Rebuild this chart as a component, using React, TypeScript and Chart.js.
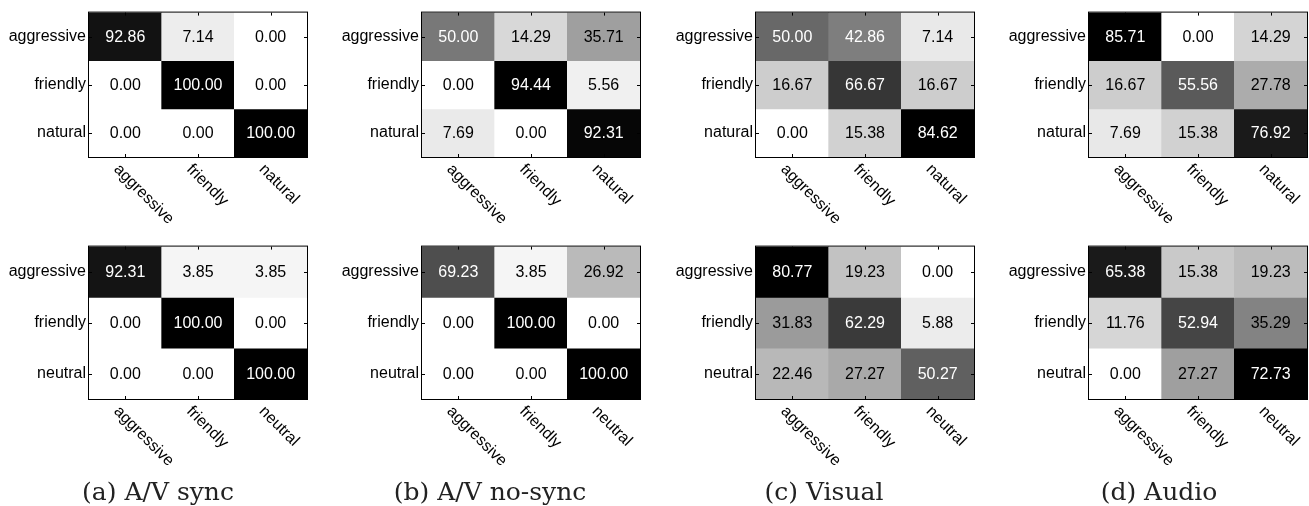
import React, { useEffect, useRef } from "react";
import { Chart, registerables } from "chart.js";

Chart.register(...registerables);

// ---- data ----
const labelsNatural = ["aggressive", "friendly", "natural"];
const labelsNeutral = ["aggressive", "friendly", "neutral"];

const syncNatural = [
  [92.86, 7.14, 0.0],
  [0.0, 100.0, 0.0],
  [0.0, 0.0, 100.0],
];
const noSyncNatural = [
  [50.0, 14.29, 35.71],
  [0.0, 94.44, 5.56],
  [7.69, 0.0, 92.31],
];
const visualNatural = [
  [50.0, 42.86, 7.14],
  [16.67, 66.67, 16.67],
  [0.0, 15.38, 84.62],
];
const audioNatural = [
  [85.71, 0.0, 14.29],
  [16.67, 55.56, 27.78],
  [7.69, 15.38, 76.92],
];
const syncNeutral = [
  [92.31, 3.85, 3.85],
  [0.0, 100.0, 0.0],
  [0.0, 0.0, 100.0],
];
const noSyncNeutral = [
  [69.23, 3.85, 26.92],
  [0.0, 100.0, 0.0],
  [0.0, 0.0, 100.0],
];
const visualNeutral = [
  [80.77, 19.23, 0.0],
  [31.83, 62.29, 5.88],
  [22.46, 27.27, 50.27],
];
const audioNeutral = [
  [65.38, 15.38, 19.23],
  [11.76, 52.94, 35.29],
  [0.0, 27.27, 72.73],
];

const captions = ["(a) A/V sync", "(b) A/V no-sync", "(c) Visual", "(d) Audio"];

// ---- layout ----
const PLOT_LEFT = [89, 422, 756, 1089];
const PLOT_TOP = [9, 243];
const PLOT_H = [148, 156];
const PLOT_W = 218;
const LABEL_W = 89;
const BOTTOM_SPACE = 90;
const CAPTION_CENTER = [158, 490, 824, 1159];

const FONT = '16px "Liberation Sans", Arial, Helvetica, sans-serif';

type Props = {
  values: number[][];
  labels: string[];
  col: number;
  row: number;
};

function Matrix({ values, labels, col, row }: Props) {
  const ref = useRef<HTMLCanvasElement | null>(null);
  const width = LABEL_W + PLOT_W + 2;
  const height = 9 + PLOT_H[row] + BOTTOM_SPACE;

  useEffect(() => {
    const canvas = ref.current;
    if (!canvas) return;
    const flat = values.flat();
    const vmin = Math.min(...flat);
    const vmax = Math.max(...flat);
    const norm = (v: number) => (v - vmin) / (vmax - vmin);
    const gray = (v: number) => {
      const g = Math.round(255 * (1 - norm(v)));
      return `rgb(${g},${g},${g})`;
    };

    const cellPlugin = {
      id: "cells",
      afterDatasetsDraw(chart: any) {
        const { ctx, chartArea: a } = chart;
        const xs = chart.scales.x;
        const ys = chart.scales.y;
        ctx.save();
        ctx.font = FONT;
        ctx.textAlign = "center";
        ctx.textBaseline = "middle";
        chart.data.datasets.forEach((_ds: any, r: number) => {
          const meta = chart.getDatasetMeta(r);
          meta.data.forEach((el: any, c: number) => {
            const v = values[r][c];
            const cy = (el.y + el.base) / 2;
            ctx.fillStyle = norm(v) >= 0.495 ? "#ffffff" : "#000000";
            ctx.fillText(v.toFixed(2), el.x, cy + 1);
          });
        });
        // box
        ctx.strokeStyle = "#000";
        ctx.lineWidth = 1;
        ctx.strokeRect(a.left - 0.5, a.top - 0.5, a.right - a.left + 1, a.bottom - a.top + 1);
        // inward ticks
        ctx.beginPath();
        labels.forEach((_l, i) => {
          const px = Math.round(xs.getPixelForValue(i)) + 0.5;
          ctx.moveTo(px, a.bottom);
          ctx.lineTo(px, a.bottom - 3);
          ctx.moveTo(px, a.top);
          ctx.lineTo(px, a.top + 3);
          const py = Math.round(ys.getPixelForValue(i)) + 0.5;
          ctx.moveTo(a.left, py);
          ctx.lineTo(a.left + 3, py);
          ctx.moveTo(a.right, py);
          ctx.lineTo(a.right - 3, py);
        });
        ctx.stroke();
        // rotated x labels
        ctx.fillStyle = "#000";
        ctx.textAlign = "left";
        ctx.textBaseline = "middle";
        labels.forEach((l, i) => {
          const px = xs.getPixelForValue(i);
          ctx.save();
          ctx.translate(px - 9, a.bottom + 10);
          ctx.rotate(Math.PI / 4);
          ctx.fillText(l, 0, 0);
          ctx.restore();
        });
        ctx.restore();
      },
    };

    const chart = new Chart(canvas, {
      type: "bar",
      data: {
        labels: labels,
        datasets: values.map((rowVals, r) => ({
          data: rowVals.map(() => [r - 0.5, r + 0.5]),
          backgroundColor: rowVals.map((v) => gray(v)),
          borderWidth: 0,
          grouped: false,
          barPercentage: 1,
          categoryPercentage: 1,
        })) as any,
      },
      options: {
        animation: false,
        responsive: false,
        events: [],
        layout: { padding: { top: 9, right: 2, left: 0, bottom: 0 } },
        plugins: {
          legend: { display: false },
          tooltip: { enabled: false },
          title: { display: false },
        },
        scales: {
          x: {
            type: "category",
            offset: true,
            grid: { display: false, drawTicks: false },
            border: { display: false },
            ticks: { display: false },
            afterFit: (s: any) => {
              s.height = BOTTOM_SPACE;
            },
          },
          y: {
            type: "linear",
            min: -0.5,
            max: 2.5,
            reverse: true,
            grid: { display: false, drawTicks: false },
            border: { display: false },
            afterBuildTicks: (s: any) => {
              s.ticks = labels.map((_l, i) => ({ value: i }));
            },
            ticks: {
              color: "#000",
              padding: 3,
              font: { family: '"Liberation Sans", Arial, Helvetica, sans-serif', size: 16 },
              callback: (v: any) => labels[Number(v)] ?? "",
            },
            afterFit: (s: any) => {
              s.width = LABEL_W;
            },
          },
        },
      } as any,
      plugins: [cellPlugin],
    });
    return () => chart.destroy();
  }, [values, labels, row, col]);

  return (
    <canvas
      ref={ref}
      width={width}
      height={height}
      style={{
        position: "absolute",
        left: PLOT_LEFT[col] - LABEL_W,
        top: PLOT_TOP[row] - 9,
        width,
        height,
      }}
    />
  );
}

const topRow = [syncNatural, noSyncNatural, visualNatural, audioNatural];
const bottomRow = [syncNeutral, noSyncNeutral, visualNeutral, audioNeutral];

export default function App() {
  return (
    <div
      style={{
        position: "absolute",
        left: 0,
        top: 0,
        width: 1309,
        height: 506,
        background: "#fff",
        overflow: "hidden",
      }}
    >
      {topRow.map((v, i) => (
        <Matrix key={"t" + i} values={v} labels={labelsNatural} col={i} row={0} />
      ))}
      {bottomRow.map((v, i) => (
        <Matrix key={"b" + i} values={v} labels={labelsNeutral} col={i} row={1} />
      ))}
      {captions.map((c, i) => (
        <div
          key={"c" + i}
          style={{
            position: "absolute",
            left: CAPTION_CENTER[i] - 150,
            width: 300,
            top: 478,
            textAlign: "center",
            fontFamily: '"DejaVu Serif", serif',
            fontSize: 25,
            lineHeight: "28px",
            color: "#222",
          }}
        >
          {c}
        </div>
      ))}
    </div>
  );
}
